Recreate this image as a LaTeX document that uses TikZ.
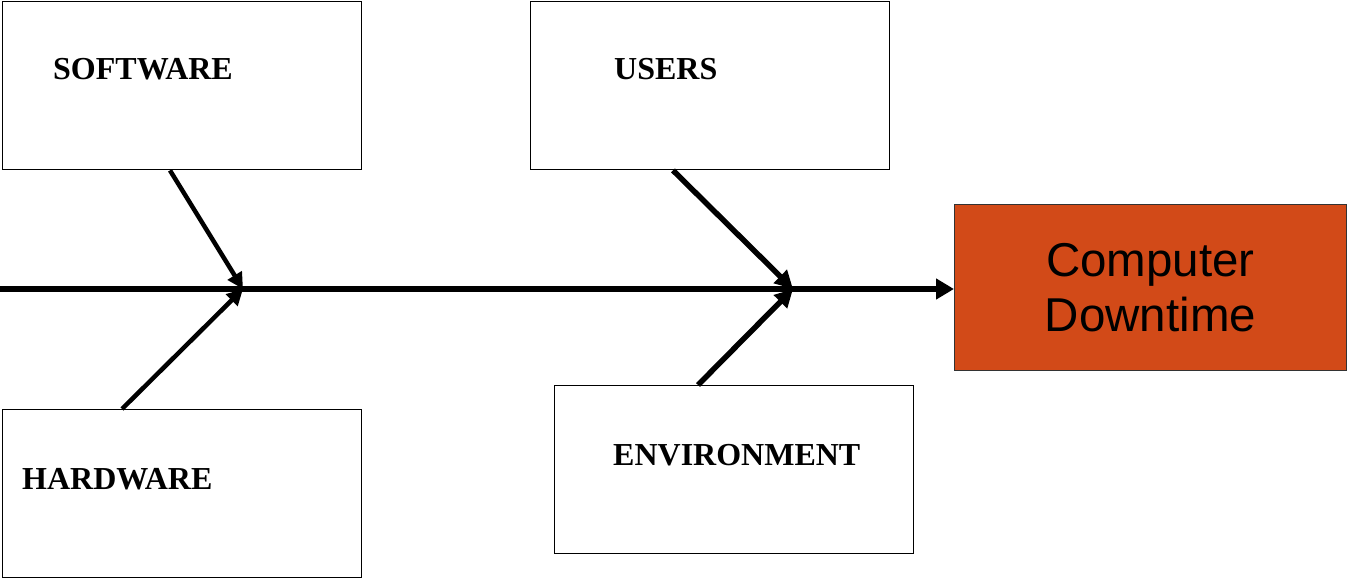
\documentclass[tikz,border=0pt]{standalone}
\usepackage{fontspec}
\setmainfont{Liberation Serif}
\newfontfamily\arialfont{Liberation Sans}
\usetikzlibrary{arrows.meta}
\definecolor{effectfill}{HTML}{D24A18}
\begin{document}
\begin{tikzpicture}[x=1pt,y=-1pt,
  causebox/.style={draw=black, line width=1.4pt, fill=white, minimum width=359pt, minimum height=168pt, inner sep=0pt, anchor=north west},
  causelabel/.style={anchor=base west, inner sep=0pt, font=\bfseries\fontsize{32}{38}\selectfont},
  effectbox/.style={draw=black!80, line width=1pt, fill=effectfill, minimum width=392pt, minimum height=166pt, inner sep=0pt, anchor=north west, align=center, font=\arialfont\fontsize{47.5}{55}\selectfont},
  spine/.style={line width=6pt, -{Triangle[length=18pt,width=20pt]}},
  bone/.style={line width=4.5pt, -{Triangle[length=16pt,width=16pt]}},
  thickbone/.style={line width=5.5pt, -{Triangle[length=18pt,width=18pt]}}]
\useasboundingbox (0,0) rectangle (1347,580);

% cause categories
\node[causebox] (sw) at (2,1) {};
\node[causebox] (us) at (530,1) {};
\node[causebox] (hw) at (2,409) {};
\node[causebox] (en) at (554,385) {};
\node[causelabel] (swt) at (53,80) {SOFTWARE};
\node[causelabel] (ust) at (614,80) {USERS};
\node[causelabel] (hwt) at (22,489) {HARDWARE};
\node[causelabel] (ent) at (613,465) {ENVIRONMENT};

% effect
\node[effectbox] (eff) at (954,204) {Computer\\Downtime};

% spine and junctions
\coordinate (tail) at (0,289);
\coordinate (j1) at (243,289);
\coordinate (j2) at (793,289);
\draw[spine] (tail) -- (eff.west |- tail);

% bones
\draw[bone] ([xshift=168pt]sw.south west) -- (j1);
\draw[bone] ([xshift=120pt]hw.north west) -- (j1);
\draw[thickbone] ([xshift=143pt]us.south west) -- (j2);
\draw[thickbone] ([xshift=144pt]en.north west) -- (j2);
\end{tikzpicture}
\end{document}
